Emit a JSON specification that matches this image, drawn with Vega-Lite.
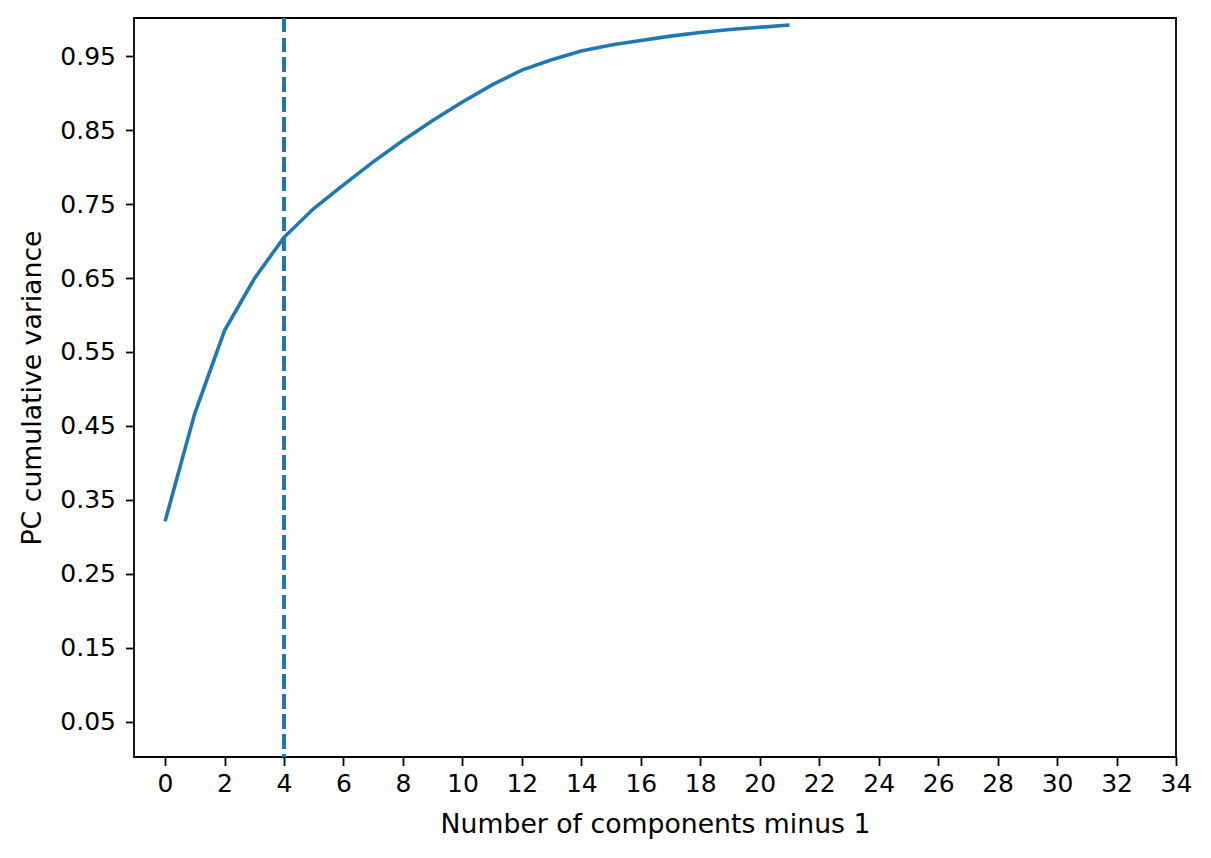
{
  "$schema": "https://vega.github.io/schema/vega-lite/v6.json",
  "autosize": "none",
  "padding": {"left": 134, "top": 18, "right": 35, "bottom": 101},
  "width": 1042,
  "height": 739,
  "background": "white",
  "config": {
    "view": {"stroke": "black", "strokeWidth": 1.8},
    "font": "DejaVu Sans",
    "axis": {
      "labelFont": "DejaVu Sans",
      "titleFont": "DejaVu Sans",
      "labelFontSize": 25,
      "titleFontSize": 26.7,
      "titleFontWeight": "normal",
      "labelColor": "black",
      "titleColor": "black",
      "tickColor": "black",
      "tickSize": 8.5,
      "tickWidth": 1.8,
      "domain": false,
      "grid": false,
      "labelFlush": false,
      "labelOverlap": false,
      "labelBound": false
    }
  },
  "data": {
    "values": [
      {"n": 0, "v": 0.321},
      {"n": 1, "v": 0.467},
      {"n": 2, "v": 0.579},
      {"n": 3, "v": 0.649},
      {"n": 4, "v": 0.705},
      {"n": 5, "v": 0.744},
      {"n": 6, "v": 0.776},
      {"n": 7, "v": 0.807},
      {"n": 8, "v": 0.836},
      {"n": 9, "v": 0.863},
      {"n": 10, "v": 0.888},
      {"n": 11, "v": 0.911},
      {"n": 12, "v": 0.931},
      {"n": 13, "v": 0.945},
      {"n": 14, "v": 0.957},
      {"n": 15, "v": 0.965},
      {"n": 16, "v": 0.971},
      {"n": 17, "v": 0.977},
      {"n": 18, "v": 0.982},
      {"n": 19, "v": 0.986},
      {"n": 20, "v": 0.989},
      {"n": 21, "v": 0.992}
    ]
  },
  "layer": [
    {
      "mark": {"type": "line", "color": "#1f77b4", "strokeWidth": 3.6, "clip": true},
      "encoding": {
        "x": {
          "field": "n",
          "type": "quantitative",
          "scale": {"domain": [-1.045, 34], "nice": false, "zero": false},
          "axis": {
            "title": "Number of components minus 1",
            "values": [0, 2, 4, 6, 8, 10, 12, 14, 16, 18, 20, 22, 24, 26, 28, 30, 32, 34],
            "labelPadding": 6,
            "titlePadding": 15
          }
        },
        "y": {
          "field": "v",
          "type": "quantitative",
          "scale": {"domain": [0.0025, 1.0015], "nice": false, "zero": false},
          "axis": {
            "title": "PC cumulative variance",
            "values": [0.05, 0.15, 0.25, 0.35, 0.45, 0.55, 0.65, 0.75, 0.85, 0.95],
            "format": ".2f",
            "labelPadding": 10,
            "titlePadding": 13
          }
        }
      }
    },
    {
      "mark": {"type": "rule", "color": "#1f77b4", "strokeWidth": 3.6, "strokeDash": [13.9, 6]},
      "encoding": {
        "x": {"datum": 4, "type": "quantitative"}
      }
    }
  ]
}
